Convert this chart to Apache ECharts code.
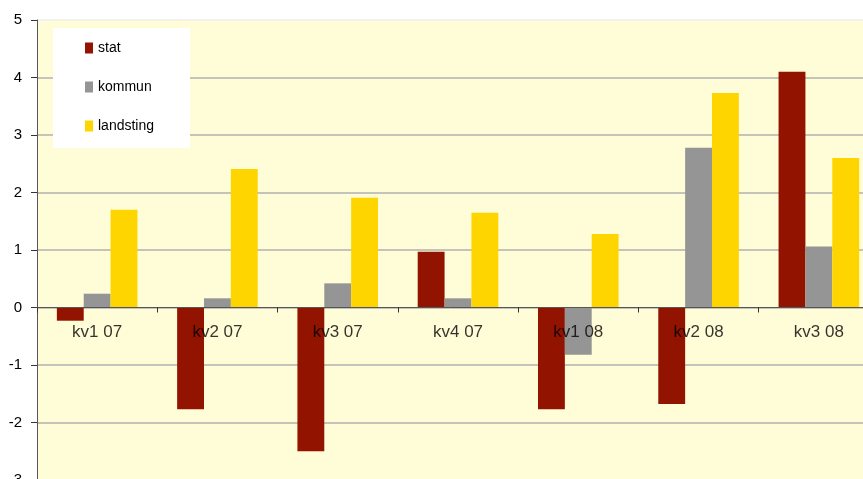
<!DOCTYPE html>
<html>
<head>
<meta charset="utf-8">
<script src="https://cdn.jsdelivr.net/npm/echarts@6/dist/echarts.min.js"></script>
<style>html,body{margin:0;padding:0;background:#fff;}#c{width:863px;height:479px;}</style>
</head>
<body>
<div id="c"></div>
<script>
var categories = ['kv1 07', 'kv2 07', 'kv3 07', 'kv4 07', 'kv1 08', 'kv2 08', 'kv3 08'];
var stat = [-0.23, -1.77, -2.5, 0.97, -1.77, -1.68, 4.1];
var kommun = [0.24, 0.16, 0.42, 0.16, -0.82, 2.78, 1.06];
var landsting = [1.70, 2.41, 1.91, 1.65, 1.28, 3.73, 2.60];

var chart = echarts.init(document.getElementById('c'));
var font = 'Liberation Sans, Arial, sans-serif';
var g = '#b0b0b0';
chart.setOption({
  animation: false,
  backgroundColor: '#ffffff',
  textStyle: { fontFamily: font },
  grid: { left: 37, right: -16, top: 20, bottom: -1, show: true, backgroundColor: '#FFFDD7', borderWidth: 0, containLabel: false, outerBoundsMode: 'none' },
  legend: {
    orient: 'vertical', left: 53, top: 28,
    backgroundColor: '#ffffff',
    padding: [13, 36, 15, 32],
    itemWidth: 8, itemHeight: 11, itemGap: 25,
    icon: 'rect',
    textStyle: { fontSize: 14, color: '#000', fontFamily: font },
    data: ['stat', 'kommun', 'landsting']
  },
  xAxis: {
    type: 'category', data: categories, z: 5,
    axisLine: { onZero: true, lineStyle: { color: '#555', width: 1 } },
    axisTick: { show: true, length: 5, lineStyle: { color: '#333' } },
    axisLabel: { show: false },
    splitLine: { show: false }
  },
  yAxis: {
    type: 'value', min: -3, max: 5, interval: 1,
    axisLine: { show: true, lineStyle: { color: '#555', width: 1 } },
    axisTick: { show: true, length: 6, lineStyle: { color: '#333' } },
    axisLabel: { fontSize: 15, color: '#000', margin: 15, fontFamily: font },
    splitLine: { show: true, lineStyle: { color: [g, g, g, g, g, g, g, g, '#eeeeee'], width: 1.5 } }
  },
  series: [
    { name: 'stat', type: 'bar', data: stat, barGap: '0%', barCategoryGap: '33%', itemStyle: { color: '#921300' } },
    { name: 'kommun', type: 'bar', data: kommun, itemStyle: { color: '#959595' } },
    { name: 'landsting', type: 'bar', data: landsting, itemStyle: { color: '#FFD500' } },
    {
      name: 'labels', type: 'scatter', z: 10, symbolSize: 0, silent: true,
      data: categories.map(function (c) { return [c, 0]; }),
      label: {
        show: true, position: 'bottom', distance: 16,
        fontSize: 17, color: '#000', fontFamily: font,
        formatter: function (p) { return p.value[0]; }
      }
    }
  ]
});
</script>
</body>
</html>
